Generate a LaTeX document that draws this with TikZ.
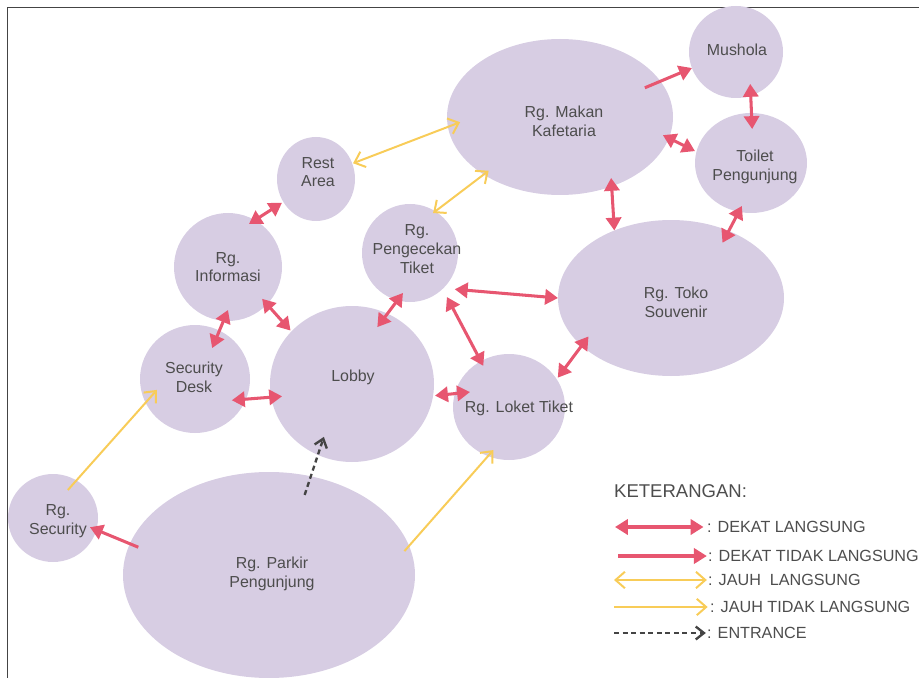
\documentclass[tikz,border=0pt]{standalone}
\usepackage{fontspec}
\setmainfont{Liberation Sans}
\usetikzlibrary{arrows.meta,shapes.geometric,calc}

\definecolor{ungu}{RGB}{215,205,227}
\definecolor{merah}{RGB}{231,86,112}
\definecolor{kuning}{RGB}{248,204,88}
\definecolor{abu}{RGB}{77,77,77}
\definecolor{gelap}{RGB}{68,68,68}

\tikzset{
  ujungmerah/.tip={Triangle[length=11pt,width=13pt]},
  ujungkuning/.tip={Straight Barb[length=8pt,width=14pt]},
  ujunggelap/.tip={Straight Barb[length=7pt,width=11pt]},
  ruangan/.style 2 args={ellipse, fill=ungu, inner sep=0pt, outer sep=0pt,
    minimum width=#1*0.06cm, minimum height=#2*0.06cm},
  teksruang/.style={text=abu, align=center, inner sep=0pt, font=\fontsize{13.6}{16}\selectfont},
  dekatlgs/.style={draw=merah, line width=2.6pt, ujungmerah-ujungmerah},
  dekattdk/.style={draw=merah, line width=2.6pt, -ujungmerah},
  jauhlgs/.style={draw=kuning, line width=1.7pt, ujungkuning-ujungkuning},
  jauhtdk/.style={draw=kuning, line width=1.7pt, -ujungkuning},
  masukpanah/.style={draw=gelap, line width=2pt, dash pattern=on 4.3pt off 3pt, -ujunggelap},
  ket/.style={anchor=west, inner sep=0pt, text=abu, font=\fontsize{13.8}{16}\selectfont}
}

\begin{document}
\begin{tikzpicture}[x=0.03cm, y=-0.03cm]
  \useasboundingbox (0,0) rectangle (919,678);
  \draw[gelap, line width=0.8pt] (7,678) -- (7,7) -- (919,7);

  % ruang
  \node[ruangan={47}{46}, label={[teksruang,shift={(1,-2)}]center:Mushola}] (mushola) at (736,52) {};
  \node[ruangan={113}{78}, label={[teksruang,shift={(4,4)}]center:Rg. Makan\\Kafetaria}] (makan) at (560,117) {};
  \node[ruangan={56}{50}, label={[teksruang,shift={(4,4)}]center:Toilet\\Pengunjung}] (toilet) at (751,163) {};
  \node[ruangan={113}{78}, label={[teksruang,shift={(5,4)}]center:Rg. Toko\\Souvenir}] (toko) at (671,298) {};
  \node[ruangan={39}{42}, label={[teksruang,shift={(2,-7)}]center:Rest\\Area}] (rest) at (316,179) {};
  \node[ruangan={54}{54}, label={[teksruang]center:Rg.\\Informasi}] (info) at (228,267) {};
  \node[ruangan={48}{49}, label={[teksruang,shift={(7,-4)}]center:Rg.\\Pengecekan\\Tiket}] (cek) at (410,253) {};
  \node[ruangan={55}{54}, label={[teksruang,shift={(-1,-2)}]center:Security\\Desk}] (secdesk) at (195,379) {};
  \node[ruangan={82}{78}, label={[teksruang,shift={(1,-7)}]center:Lobby}] (lobby) at (352,384) {};
  \node[ruangan={56}{53}, label={[teksruang,shift={(10,1)}]center:Rg. Loket Tiket}] (loket) at (509,407) {};
  \node[ruangan={45}{44}, label={[teksruang,shift={(5,3)}]center:Rg.\\Security}] (security) at (53,518) {};
  \node[ruangan={146}{103}, label={[teksruang,shift={(3,-1)}]center:Rg. Parkir\\Pengunjung}] (parkir) at (269,575) {};

  % dekat langsung
  \draw[dekatlgs] ($(mushola.center)!.757!(mushola.294)$) -- ($(toilet.center)!.68!(toilet.88)$);
  \draw[dekatlgs] ($(makan.center)!.94!(makan.350)$) -- ($(toilet.center)!1.028!(toilet.168)$);
  \draw[dekatlgs] ($(makan.center)!.903!(makan.310)$) -- (toko.130);
  \draw[dekatlgs] ($(toilet.center)!.875!(toilet.258)$) -- ($(toko.center)!.842!(toko.47)$);
  \draw[dekatlgs] ($(cek.center)!1.191!(cek.321)$) -- (toko.180);
  \draw[dekatlgs] ($(cek.center)!1.183!(cek.310)$) -- ($(loket.center)!.902!(loket.122)$);
  \draw[dekatlgs] ($(toko.center)!.881!(toko.205)$) -- ($(loket.center)!1.032!(loket.31)$);
  \draw[dekatlgs] ($(lobby.center)!1.024!(lobby.352)$) -- ($(loket.center)!.752!(loket.159)$);
  \draw[dekatlgs] ($(cek.center)!.829!(cek.260)$) -- ($(lobby.center)!.792!(lobby.66)$);
  \draw[dekatlgs] ($(rest.center)!1.042!(rest.215)$) -- ($(info.center)!.886!(info.64)$);
  \draw[dekatlgs] ($(info.center)!.864!(info.317)$) -- ($(lobby.center)!1.016!(lobby.139)$);
  \draw[dekatlgs] ($(info.center)!.796!(info.270)$) -- ($(secdesk.center)!.652!(secdesk.61)$);
  \draw[dekatlgs] ($(secdesk.center)!.777!(secdesk.330)$) -- ($(lobby.center)!.867!(lobby.190)$);
  % dekat tidak langsung
  \draw[dekattdk] ($(makan.center)!.839!(makan.19)$) -- (mushola.200);
  \draw[dekattdk] ($(parkir.center)!.935!(parkir.168)$) -- ($(security.center)!.847!(security.346)$);
  % jauh langsung
  \draw[jauhlgs] ($(rest.center)!1.022!(rest.23)$) -- ($(makan.center)!.887!(makan.183)$);
  \draw[jauhlgs] ($(cek.center)!.947!(cek.60)$) -- ($(makan.center)!.935!(makan.217)$);
  % jauh tidak langsung
  \draw[jauhtdk] ($(security.center)!.718!(security.62)$) -- ($(secdesk.center)!.72!(secdesk.196)$);
  \draw[jauhtdk] ($(parkir.center)!.956!(parkir.10)$) -- ($(loket.center)!.86!(loket.250)$);
  % entrance
  \draw[masukpanah] ($(parkir.center)!.815!(parkir.66)$) -- ($(lobby.center)!.76!(lobby.242)$);

  % keterangan
  \node[ket, font=\fontsize{15.8}{18}\selectfont] (keterangan) at (614,491) {KETERANGAN:};
  \node[ket] (k1) at (707,527) {: DEKAT LANGSUNG};
  \node[ket] (k2) at (708,556) {: DEKAT TIDAK LANGSUNG};
  \node[ket] (k3) at (708,580) {: JAUH\ \ LANGSUNG};
  \node[ket] (k4) at (710,607) {: JAUH TIDAK LANGSUNG};
  \node[ket] (k5) at (707,633) {: ENTRANCE};
  \coordinate (p1) at (615,527);
  \coordinate (p2) at (618,556);
  \coordinate (p3) at (614,580);
  \coordinate (p4) at (614,607);
  \coordinate (p5) at (614,633);
  \draw[dekatlgs, shorten >=3pt] (p1) -- (k1.west);
  \draw[dekattdk, shorten >=1pt] (p2) -- (k2.west);
  \draw[jauhlgs, shorten >=1pt] (p3) -- (k3.west);
  \draw[jauhtdk, shorten >=2pt] (p4) -- (k4.west);
  \draw[masukpanah, shorten >=1pt] (p5) -- (k5.west);
\end{tikzpicture}
\end{document}
